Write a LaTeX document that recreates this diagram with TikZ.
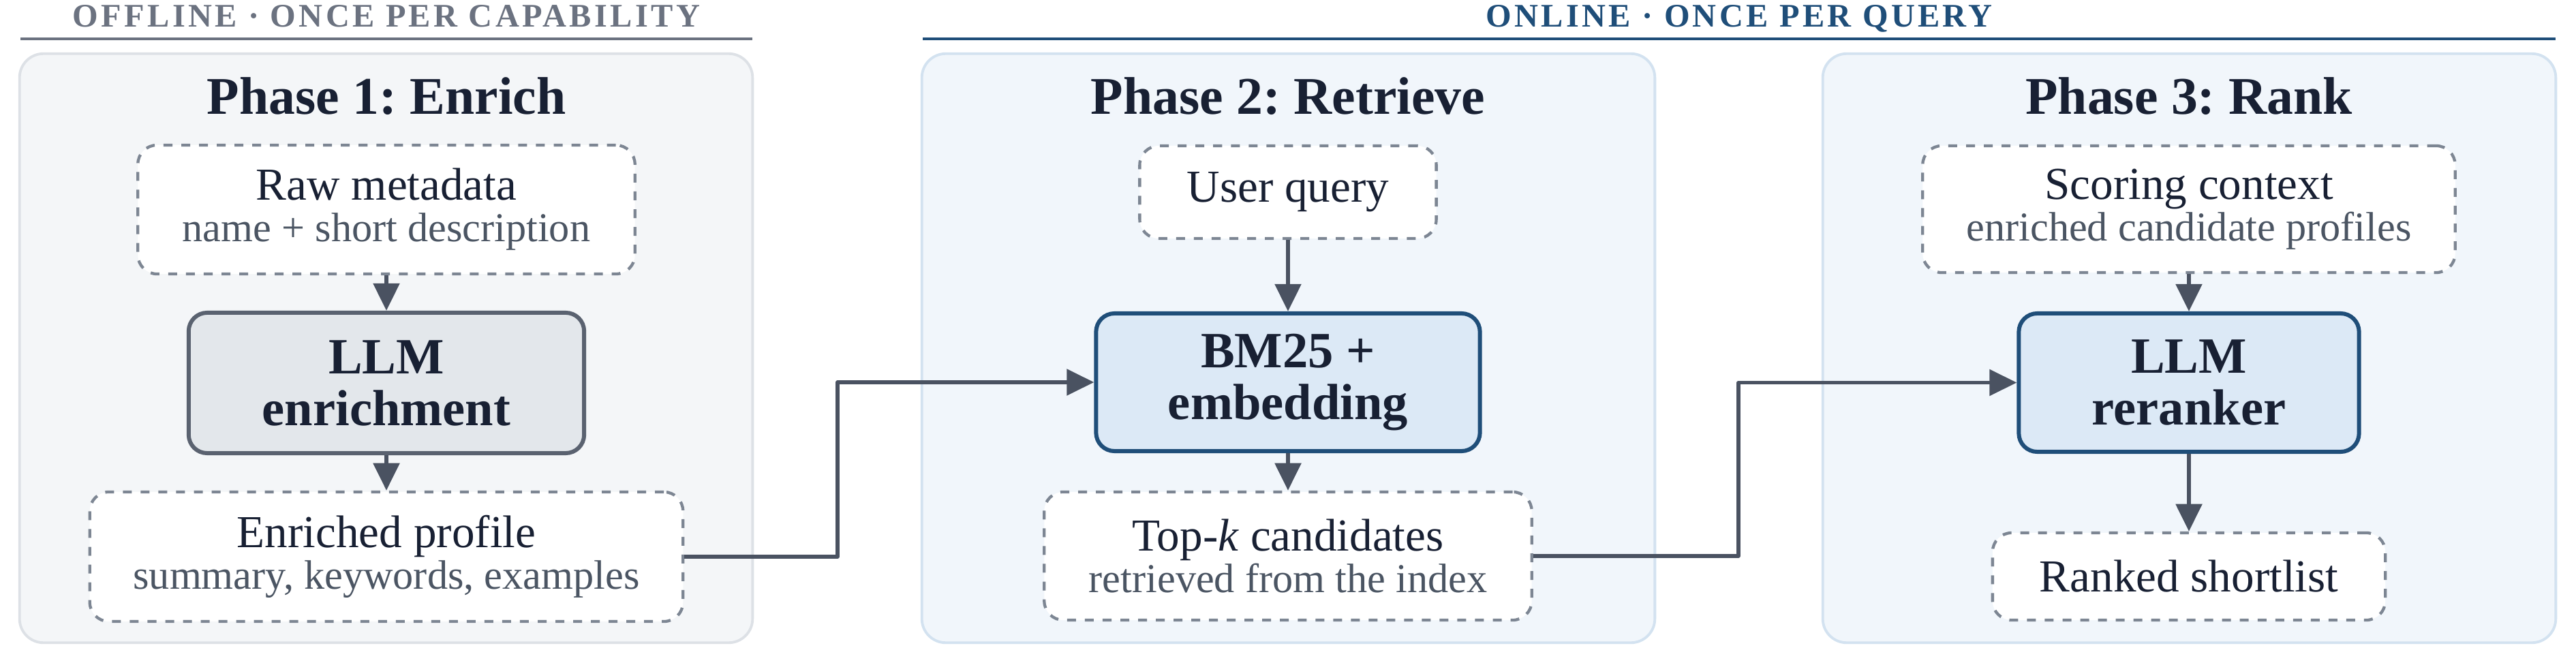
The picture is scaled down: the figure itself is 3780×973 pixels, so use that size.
\documentclass[tikz,border=0pt]{standalone}
\usepackage{fontspec}
\setmainfont{Liberation Serif}
\newfontfamily\hdfam[LetterSpace=9]{Liberation Serif}
\usetikzlibrary{arrows.meta}
\frenchspacing
\definecolor{ink}{HTML}{182033}
\definecolor{subgray}{HTML}{4B5563}
\definecolor{arrowc}{HTML}{4A5261}
\definecolor{dashc}{HTML}{7D8693}
\definecolor{offc}{HTML}{6B7280}
\definecolor{onc}{HTML}{1F4E79}
\definecolor{pgfill}{HTML}{F4F6F8}
\definecolor{pgline}{HTML}{DDE1E6}
\definecolor{pbfill}{HTML}{F1F6FB}
\definecolor{pbline}{HTML}{D3E2F0}
\definecolor{enfill}{HTML}{E3E7EB}
\definecolor{enline}{HTML}{5A6270}
\definecolor{blfill}{HTML}{DCE9F6}
\newcommand\hdfont{\hdfam\bfseries\fontsize{13.75}{16}\selectfont}
\newcommand\phfont{\bfseries\fontsize{22.1}{26}\selectfont}
\newcommand\bxfont{\bfseries\fontsize{21.2}{21.6}\selectfont}
\newcommand\iofont{\fontsize{19.1}{17.4}\selectfont}
\newcommand\subfont{\fontsize{17.15}{17.4}\selectfont\color{subgray}}
\begin{document}
\begin{tikzpicture}[x=0.01cm, y=-0.01cm, line join=round, >={Triangle[length=11.4pt,width=10.8pt]},
	panelg/.style={draw=pgline, fill=pgfill, line width=1.1pt, rounded corners=10pt, minimum width=10.75cm, minimum height=8.64cm},
	panelb/.style={panelg, draw=pbline, fill=pbfill},
	iobox/.style={draw=dashc, fill=white, line width=1.22pt, dash pattern=on 3.7pt off 3.7pt, rounded corners=8pt, align=center, text=ink, font=\iofont},
	gbox/.style={draw=enline, fill=enfill, line width=1.7pt, rounded corners=7.7pt, align=center, text=ink, font=\bxfont},
	bbox/.style={gbox, draw=onc, fill=blfill},
	flow/.style={->, draw=arrowc, line width=1.6pt}]
	%Khung nền.
	\useasboundingbox (0,0) rectangle (3780,973);
	%Tiêu đề trên cùng.
	\node[anchor=base, text=offc, font=\hdfont] (toff) at (567,40) {OFFLINE · ONCE PER CAPABILITY};
	\node[anchor=base, text=onc, font=\hdfont] (ton) at (2552,40) {ONLINE · ONCE PER QUERY};
	\draw[offc, line width=1.1pt] (30,57)--(1104,57);
	\draw[onc, line width=1.1pt] (1354,57)--(3750,57);
	%Ba giai đoạn.
	\node[panelg] (p1) at (566.5,511) {};
	\node[panelb] (p2) at (1890.5,511) {};
	\node[panelb] (p3) at (3212.5,511) {};
	\node[anchor=base, text=ink, font=\phfont] (h1) at (567,168) {Phase 1: Enrich};
	\node[anchor=base, text=ink, font=\phfont] (h2) at (1890,168) {Phase 2: Retrieve};
	\node[anchor=base, text=ink, font=\phfont] (h3) at (3212,168) {Phase 3: Rank};
	%Giai đoạn 1.
	\node[iobox, minimum width=7.29cm, minimum height=1.89cm] (raw) at (567,307.5) {Raw metadata\\{\subfont name + short description}};
	\node[gbox, minimum width=5.8cm, minimum height=2.06cm] (enr) at (567,562) {LLM\\enrichment};
	\node[iobox, minimum width=8.7cm, minimum height=1.9cm] (prof) at (567,817) {Enriched profile\\{\subfont summary, keywords, examples}};
	%Giai đoạn 2.
	\node[iobox, minimum width=4.35cm, minimum height=1.36cm] (query) at (1890,282) {User query};
	\node[bbox, minimum width=5.63cm, minimum height=2.02cm] (bm) at (1890,561) {BM25 +\\embedding};
	\node[iobox, minimum width=7.15cm, minimum height=1.88cm] (topk) at (1890,816) {Top-\textit{k} candidates\\{\subfont retrieved from the index}};
	%Giai đoạn 3.
	\node[iobox, minimum width=7.81cm, minimum height=1.86cm] (score) at (3212,307) {Scoring context\\{\subfont enriched candidate profiles}};
	\node[bbox, minimum width=4.99cm, minimum height=2.03cm] (rr) at (3212,561.5) {LLM\\reranker};
	\node[iobox, minimum width=5.76cm, minimum height=1.28cm] (short) at (3212,846) {Ranked shortlist};
	%Mũi tên.
	\coordinate (j1) at (1229,690);
	\coordinate (j2) at (2551,690);
	\draw[flow] (raw)--(enr);
	\draw[flow] (enr)--(prof);
	\draw[flow] (query)--(bm);
	\draw[flow] (bm)--(topk);
	\draw[flow] (score)--(rr);
	\draw[flow] (rr)--(short);
	\draw[flow] (prof.east) -| (j1) |- (bm.west);
	\draw[flow] (topk.east) -| (j2) |- (rr.west);
\end{tikzpicture}
\end{document}
